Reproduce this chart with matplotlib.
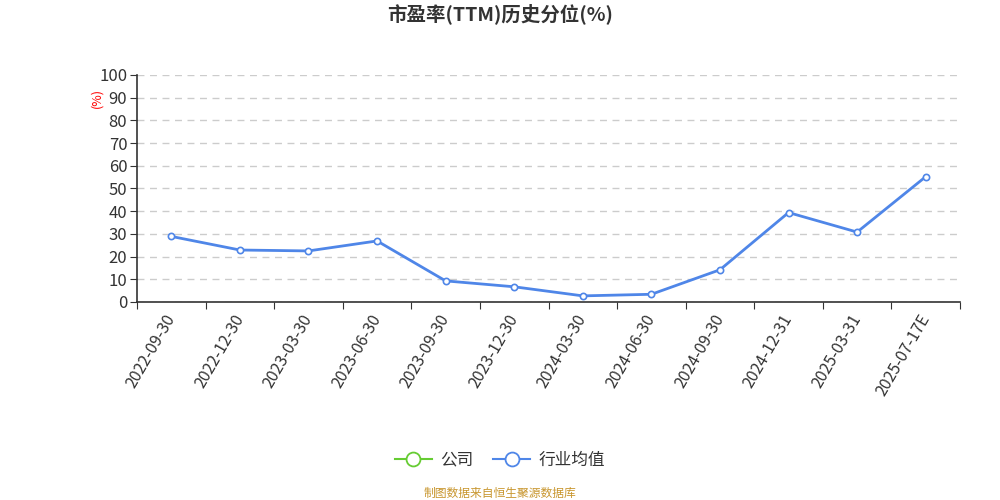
import numpy as np
import matplotlib
matplotlib.use('Agg')
import matplotlib.pyplot as plt
from matplotlib.lines import Line2D

plt.rcParams['font.family'] = ['Noto Sans CJK SC', 'DejaVu Sans']

dates = ['2022-09-30', '2022-12-30', '2023-03-30', '2023-06-30', '2023-09-30', '2023-12-30',
         '2024-03-30', '2024-06-30', '2024-09-30', '2024-12-31', '2025-03-31', '2025-07-17E']
industry = [28.9, 22.9, 22.5, 26.9, 9.3, 6.7, 2.7, 3.4, 14.2, 39.4, 30.8, 55.2]
company = []

blue = '#4f86e8'
green = '#66cc33'

fig = plt.figure(figsize=(10, 5), dpi=100)
ax = fig.add_axes([0.137, 0.396, 0.823, 0.454])

x = np.arange(len(dates))
ax.plot(x, industry, color=blue, lw=2, marker='o', ms=4.5, mfc='white', mec=blue, mew=1.2, zorder=3)

ax.set_xlim(-0.5, len(dates) - 0.5)
ax.set_ylim(0, 100)
ax.set_yticks(np.arange(0, 101, 10))
ax.set_xticks(np.arange(-0.5, len(dates), 1), minor=False)
ax.set_xticklabels([])
ax.set_xticks(x, minor=True)
ax.set_xticklabels(dates, minor=True, rotation=60, ha='right', va='center', rotation_mode='anchor',
                   fontsize=11.5, color='#333333')
ax.tick_params(axis='x', which='minor', length=0, pad=10)
ax.tick_params(axis='x', which='major', length=5, color='#333333', direction='out')
ax.tick_params(axis='y', length=5, color='#333333', labelsize=12, labelcolor='#333333', pad=2)

ax.grid(axis='y', color='#cccccc', linestyle=(0, (5, 4)), lw=1)
ax.set_axisbelow(True)
for s in ['top', 'right']:
    ax.spines[s].set_visible(False)
for s in ['left', 'bottom']:
    ax.spines[s].set_color('#333333')
    ax.spines[s].set_linewidth(1.2)

fig.text(0.097, 0.805, '(%)', color='red', rotation=90, fontsize=9, ha='center', va='center')
fig.text(0.5, 0.972, '市盈率(TTM)历史分位(%)', ha='center', va='center', fontsize=14,
         fontweight='bold', color='#333333')

handles = [
    Line2D([], [], color=green, marker='o', ms=10, mfc='white', mec=green, mew=1.3, lw=1.5),
    Line2D([], [], color=blue, marker='o', ms=10, mfc='white', mec=blue, mew=1.3, lw=1.5),
]
fig.legend(handles, ['公司', '行业均值'], loc='center', bbox_to_anchor=(0.5, 0.08), ncol=2,
           frameon=False, fontsize=12, handlelength=2.2, columnspacing=1.2, handletextpad=0.5,
           labelcolor='#333333')

fig.text(0.5, 0.013, '制图数据来自恒生聚源数据库', ha='center', va='center', fontsize=8.5, color='#c8962e')

fig.savefig('out.png', dpi=100)
